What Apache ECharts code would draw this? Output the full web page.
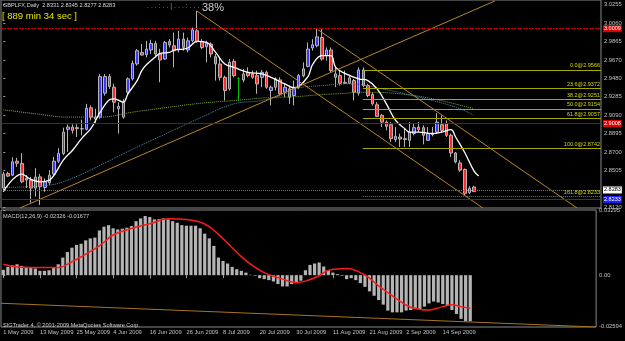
<!DOCTYPE html>
<html>
<head>
<meta charset="utf-8">
<title>GBPLFX Daily</title>
<script src="https://cdn.jsdelivr.net/npm/echarts@6/dist/echarts.min.js"></script>
<style>
html, body { margin: 0; padding: 0; background: #000; }
#wrap { width: 625px; height: 341px; }
</style>
</head>
<body>
<div id="wrap"></div>
<script>
// daily bars, 1 May 2009 .. 22 Sep 2009 (last one still open)
var opens = [2.8320,2.8474,2.8456,2.8603,2.8579,2.8425,2.8404,2.8320,2.8438,2.8327,
  2.8376,2.8467,2.8603,2.8684,2.8939,2.8963,2.8957,2.8944,2.8939,2.9166,
  2.9047,2.9068,2.9320,2.9495,2.9383,2.9156,2.9068,2.9330,2.9471,2.9628,
  2.9750,2.9726,2.9775,2.9844,2.9733,2.9680,2.9865,2.9820,2.9775,2.9890,
  2.9775,2.9872,2.9977,2.9865,2.9809,2.9838,2.9705,2.9628,2.9487,2.9366,
  2.9655,2.9474,2.9460,2.9540,2.9523,2.9505,2.9487,2.9540,2.9348,2.9383,
  2.9460,2.9330,2.9366,2.9295,2.9383,2.9505,2.9603,2.9796,2.9820,2.9907,
  2.9715,2.9775,2.9487,2.9505,2.9435,2.9424,2.9453,2.9320,2.9565,2.9400,
  2.9306,2.9198,2.9086,2.9015,2.8988,2.8831,2.8858,2.8841,2.8823,2.8894,
  2.8963,2.8957,2.8823,2.8883,2.8910,2.8988,2.8999,2.8876,2.8690,2.8585,
  2.8516,2.8271,2.8331];
var closes = [2.8467,2.8446,2.8596,2.8582,2.8386,2.8404,2.8320,2.8435,2.8334,2.8386,
  2.8456,2.8603,2.8684,2.8910,2.8963,2.8928,2.8946,2.8946,2.9162,2.9068,
  2.9068,2.9495,2.9495,2.9390,2.9225,2.9180,2.9225,2.9471,2.9634,2.9768,
  2.9722,2.9785,2.9844,2.9733,2.9670,2.9855,2.9830,2.9768,2.9890,2.9802,
  2.9872,2.9988,2.9867,2.9802,2.9844,2.9733,2.9628,2.9487,2.9348,2.9645,
  2.9505,2.9474,2.9523,2.9505,2.9487,2.9418,2.9540,2.9383,2.9383,2.9471,
  2.9313,2.9383,2.9278,2.9383,2.9505,2.9576,2.9785,2.9830,2.9914,2.9680,
  2.9775,2.9558,2.9523,2.9424,2.9424,2.9481,2.9330,2.9565,2.9400,2.9295,
  2.9208,2.9075,2.9015,2.8970,2.8841,2.8865,2.8837,2.8831,2.8910,2.8957,
  2.8936,2.8876,2.8894,2.8900,2.9015,2.8928,2.8876,2.8690,2.8596,2.8509,
  2.8264,2.8317,2.8283];
var lows = [2.8299,2.8435,2.8446,2.8543,2.8372,2.8320,2.8166,2.8229,2.8142,2.8281,
  2.8351,2.8446,2.8582,2.8666,2.8701,2.8894,2.8858,2.8876,2.8928,2.9033,
  2.8999,2.9051,2.9295,2.9366,2.9120,2.8894,2.9051,2.9306,2.9453,2.9610,
  2.9715,2.9697,2.9733,2.9697,2.9435,2.9670,2.9802,2.9592,2.9750,2.9768,
  2.9750,2.9855,2.9851,2.9785,2.9645,2.9697,2.9453,2.9453,2.9243,2.9348,
  2.9487,2.9243,2.9435,2.9487,2.9471,2.9313,2.9383,2.9366,2.9191,2.9348,
  2.9295,2.9278,2.9208,2.9191,2.9366,2.9487,2.9592,2.9768,2.9802,2.9663,
  2.9663,2.9540,2.9383,2.9400,2.9418,2.9418,2.9243,2.9295,2.9383,2.9278,
  2.9191,2.9068,2.8963,2.8928,2.8806,2.8806,2.8753,2.8753,2.8753,2.8876,
  2.8910,2.8781,2.8816,2.8865,2.8894,2.8910,2.8858,2.8648,2.8579,2.8491,
  2.8247,2.8257,2.8277];
var highs = [2.8491,2.8491,2.8645,2.8638,2.8687,2.8456,2.8438,2.8530,2.8467,2.8422,
  2.8509,2.8648,2.8740,2.8957,2.8991,2.8991,2.8991,2.9041,2.9208,2.9191,
  2.9156,2.9523,2.9523,2.9523,2.9421,2.9225,2.9261,2.9487,2.9663,2.9785,
  2.9838,2.9872,2.9883,2.9872,2.9788,2.9872,2.9890,2.9959,2.9977,2.9959,
  2.9907,3.0012,3.0187,2.9890,2.9872,2.9855,2.9733,2.9697,2.9505,2.9680,
  2.9680,2.9487,2.9576,2.9592,2.9558,2.9558,2.9565,2.9558,2.9400,2.9487,
  2.9487,2.9418,2.9400,2.9453,2.9523,2.9645,2.9855,2.9890,2.9995,2.9995,
  2.9802,2.9802,2.9592,2.9558,2.9558,2.9505,2.9471,2.9592,2.9592,2.9418,
  2.9330,2.9225,2.9103,2.9033,2.9015,2.8963,2.8894,2.8946,2.9015,2.8999,
  2.9015,2.8981,2.8963,2.8963,2.9110,2.9086,2.9033,2.8894,2.8701,2.8614,
  2.8527,2.8341,2.8345];
var dojiBars = [51];

// moving averages: [bar, price]
var fastMa = [[0,2.8281],[4,2.8467],[6,2.8411],[8,2.8386],[10,2.8404],[11,2.8456],[13,2.8614],
  [15,2.8719],[17,2.8844],[19,2.8949],[21,2.9120],[23,2.9250],[24,2.9261],[26,2.9225],
  [27,2.9313],[29,2.9453],[30,2.9558],[31,2.9620],[33,2.9705],[34,2.9739],[36,2.9750],
  [37,2.9775],[39,2.9785],[40,2.9796],[42,2.9865],[44,2.9855],[46,2.9750],[48,2.9628],
  [50,2.9592],[53,2.9540],[56,2.9523],[58,2.9487],[61,2.9418],[63,2.9376],[66,2.9495],
  [67,2.9620],[69,2.9715],[71,2.9715],[72,2.9592],[74,2.9529],[77,2.9471],[79,2.9453],
  [81,2.9366],[83,2.9208],[85,2.9033],[87,2.8946],[88,2.8910],[90,2.8910],[93,2.8894],
  [95,2.8910],[97,2.8936],[98,2.8858],[100,2.8692],[102,2.8498],[103,2.8446]];
var midMa = [[0,2.8327],[10,2.8351],[15,2.8425],[21,2.8561],[28,2.8729],[36,2.8910],
  [43,2.9068],[50,2.9208],[56,2.9243],[62,2.9327],[64,2.9376],[69,2.9400],[75,2.9418],
  [82,2.9366],[90,2.9278],[98,2.9173],[102,2.9086]];
var slowMa = [[0,2.9145],[7,2.9103],[14,2.9068],[21,2.9068],[28,2.9120],[36,2.9173],
  [43,2.9215],[50,2.9243],[57,2.9271],[64,2.9285],[69,2.9306],[72,2.9313],[79,2.9330],
  [86,2.9313],[93,2.9261],[102,2.9156]];

var macdHist = [0.0027,0.0042,0.0050,0.0055,0.0047,0.0042,0.0039,0.0034,0.0022,0.0022,
  0.0025,0.0039,0.0055,0.0089,0.0117,0.0139,0.0153,0.0159,0.0176,0.0186,
  0.0190,0.0226,0.0245,0.0253,0.0237,0.0231,0.0235,0.0240,0.0248,0.0273,
  0.0287,0.0299,0.0294,0.0282,0.0283,0.0287,0.0282,0.0273,0.0265,0.0253,
  0.0250,0.0250,0.0250,0.0237,0.0210,0.0186,0.0148,0.0089,0.0072,0.0059,
  0.0042,0.0030,0.0022,0.0013,0.0002,-0.0003,-0.0015,-0.0020,-0.0025,-0.0032,
  -0.0045,-0.0057,-0.0057,-0.0045,-0.0035,-0.0028,0.0025,0.0052,0.0059,0.0064,
  0.0044,0.0025,0.0013,0.0005,-0.0003,-0.0020,-0.0015,-0.0025,-0.0040,-0.0059,
  -0.0082,-0.0104,-0.0126,-0.0149,-0.0179,-0.0188,-0.0188,-0.0188,-0.0179,-0.0176,
  -0.0171,-0.0171,-0.0159,-0.0143,-0.0133,-0.0138,-0.0146,-0.0154,-0.0176,-0.0196,
  -0.0221,-0.0233,-0.02326];
var macdSignal = [[0,0.0055],[4,0.0040],[8,0.0039],[12,0.0039],[15,0.0068],[18,0.0106],
  [21,0.0148],[24,0.0203],[28,0.0236],[32,0.0260],[36,0.0285],[40,0.0281],[44,0.0259],
  [47,0.0206],[50,0.0139],[53,0.0074],[57,0.0013],[61,-0.0020],[64,-0.0037],[66,-0.0030],
  [69,-0.0003],[71,0.0025],[75,0.0034],[79,0.0001],[82,-0.0054],[86,-0.0121],[89,-0.0162],
  [93,-0.0176],[96,-0.0159],[98,-0.0149],[100,-0.0159],[102,-0.01677]];

var dateTicks = ['1 May 2009','13 May 2009','25 May 2009','4 Jun 2009','16 Jun 2009',
  '26 Jun 2009','8 Jul 2009','20 Jul 2009','30 Jul 2009','11 Aug 2009','21 Aug 2009',
  '2 Sep 2009','14 Sep 2009'];
var priceTicks = [3.0255,3.0060,2.9865,2.9670,2.9480,2.9285,2.9090,2.8895,2.8700,2.8505,2.8310,2.8120];
var macdTicks = [0.03295, 0, -0.02594];
var macdTickText = ['0.03295', '0.00', '-0.02594'];

var fibLevels = ['0.0','23.6','38.2','50.0','61.8','100.0','161.8'];
var fibPrices = [2.9566,2.9372,2.9251,2.9154,2.9057,2.8742,2.8233];
var fibStart = 77.9;

// drawn objects: [bar, price] end points
var trendLines = [
  [[3.6, 2.8110], [106.5, 3.0292]],
  [[41.9, 3.0187], [103.9, 2.8110]],
  [[68.2, 2.9988], [124.3, 2.8110]]
];
var macdTrend = [[-0.5, -0.0142], [129.5, -0.0262]];

var redLevels = [3.0009, 2.9008];
var bidPrice = 2.8283;
var bluePrice = 2.8233;

var slotCount = 130;
var slots = [];
for (var i = 0; i < slotCount; i++) slots.push(String(i));

var candles = opens.map(function (o, i) {
  var item = { value: [o, closes[i], lows[i], highs[i]] };
  if (dojiBars.indexOf(i) >= 0) {
    item.itemStyle = { color: '#00c000', color0: '#00c000', borderColor: '#00c000', borderColor0: '#00c000' };
  }
  return item;
});

var FONT = 'Liberation Sans';
var grey = '#c0c0c0';

function levelLine(v, text, lineColor, lineType, boxColor, textColor) {
  return {
    yAxis: v,
    lineStyle: { color: lineColor, type: lineType, width: 1 },
    label: {
      show: true, position: 'end', distance: 2, formatter: text,
      backgroundColor: boxColor, color: textColor, fontSize: 5.5, fontFamily: FONT,
      padding: [1, 1, 0, 1]
    }
  };
}

var fibData = fibPrices.map(function (p, i) {
  var dotted = fibLevels[i] === '161.8';
  return [
    { coord: [fibStart, p], lineStyle: { color: dotted ? '#7a7a50' : '#a8a800', type: dotted ? 'dotted' : 'solid', width: 1 },
      label: { show: true, position: 'insideEndTop', distance: 1, formatter: fibLevels[i] + '@' + p.toFixed(4),
        color: '#d8d800', fontSize: 5.5, fontFamily: FONT } },
    { coord: [129.5, p] }
  ];
});

var series = [
  {
    type: 'candlestick', xAxisIndex: 0, yAxisIndex: 0, data: candles, barWidth: 3,
    itemStyle: { color: '#3a3aff', color0: '#ff2a2a', borderColor: '#b4b4b4', borderColor0: '#b4b4b4', borderWidth: 1 },
    markLine: {
      silent: true, symbol: ['none', 'none'],
      data: [
        levelLine(redLevels[0], redLevels[0].toFixed(4), '#d00000', [2, 1], '#e00000', '#ffffff'),
        levelLine(redLevels[1], redLevels[1].toFixed(4), '#b00000', 'solid', '#e00000', '#ffffff'),
        levelLine(bidPrice, bidPrice.toFixed(4), '#6a7a7a', [1, 1], '#ffffff', '#000000'),
        levelLine(bluePrice, bluePrice.toFixed(4), '#1e1eff', 'solid', '#1e1eff', '#ffffff')
      ]
    }
  },
  {
    type: 'line', xAxisIndex: 2, yAxisIndex: 0, data: [], silent: true,
    markLine: { silent: true, symbol: ['none', 'none'], data: fibData }
  },
  { type: 'line', xAxisIndex: 2, yAxisIndex: 0, data: slowMa, smooth: 0.4, symbol: 'none',
    lineStyle: { color: '#7fae2e', width: 1, type: 'dotted' } },
  { type: 'line', xAxisIndex: 2, yAxisIndex: 0, data: midMa, smooth: 0.4, symbol: 'none',
    lineStyle: { color: '#4f8fae', width: 1, type: 'dotted' } },
  { type: 'line', xAxisIndex: 2, yAxisIndex: 0, data: fastMa, smooth: 0.4, symbol: 'none',
    lineStyle: { color: '#ffffff', width: 1.3 } }
];

trendLines.forEach(function (t) {
  series.push({ type: 'line', xAxisIndex: 2, yAxisIndex: 0, data: t, symbol: 'none', clip: true,
    lineStyle: { color: '#b8862b', width: 1 } });
});

series.push(
  { type: 'bar', xAxisIndex: 1, yAxisIndex: 1, data: macdHist, barWidth: 3.2,
    itemStyle: { color: '#b4b4b4' } },
  { type: 'line', xAxisIndex: 3, yAxisIndex: 1, data: macdSignal, smooth: 0.4, symbol: 'none',
    lineStyle: { color: '#ff1a1a', width: 1.5 } },
  { type: 'line', xAxisIndex: 3, yAxisIndex: 1, data: macdTrend, symbol: 'none', clip: true,
    lineStyle: { color: '#a8741c', width: 1 } }
);

function isDateTick(index) {
  return index % 8 === 0 && index / 8 < dateTicks.length;
}

var option = {
  backgroundColor: '#000000',
  animation: false,
  grid: [
    { left: 1, top: -1, width: 600, height: 209, show: true, borderColor: '#8a8a8a', borderWidth: 1, backgroundColor: 'transparent' },
    { left: 1, top: 210, width: 600, height: 117, show: true, borderColor: '#8a8a8a', borderWidth: 1, backgroundColor: 'transparent' }
  ],
  xAxis: [
    { type: 'category', gridIndex: 0, data: slots, boundaryGap: true,
      axisLine: { show: false }, axisTick: { show: false }, axisLabel: { show: false } },
    { type: 'category', gridIndex: 1, data: slots, boundaryGap: true,
      axisLine: { show: false },
      axisTick: { show: true, alignWithLabel: true, length: 3, interval: isDateTick, lineStyle: { color: '#a0a0a0' } },
      axisLabel: {
        interval: isDateTick, align: 'left', margin: 2, color: grey, fontSize: 5.8, fontFamily: FONT,
        formatter: function (value) { return dateTicks[parseInt(value, 10) / 8] || ''; }
      } },
    { type: 'value', gridIndex: 0, min: -0.5, max: slotCount - 0.5, show: false },
    { type: 'value', gridIndex: 1, min: -0.5, max: slotCount - 0.5, show: false }
  ],
  yAxis: [
    { type: 'value', gridIndex: 0, position: 'right', min: 2.8110, max: 3.0302,
      splitLine: { show: false }, axisLine: { show: false },
      axisTick: { show: true, length: 2, customValues: priceTicks, lineStyle: { color: '#a0a0a0' } },
      axisLabel: { customValues: priceTicks, margin: 3, color: grey, fontSize: 5.8, fontFamily: FONT,
        formatter: function (v) { return v.toFixed(4); } } },
    { type: 'value', gridIndex: 1, position: 'right', min: -0.0262, max: 0.03295,
      splitLine: { show: false }, axisLine: { show: false },
      axisTick: { show: true, length: 2, customValues: macdTicks, lineStyle: { color: '#a0a0a0' } },
      axisLabel: { customValues: macdTicks, margin: 3, color: grey, fontSize: 5.8, fontFamily: FONT,
        formatter: function (v) { return macdTickText[macdTicks.indexOf(v)]; } } }
  ],
  graphic: [
    { type: 'text', left: 3, top: 2, silent: true,
      style: { text: 'GBPLFX,Daily  2.8331 2.8345 2.8277 2.8283', fill: '#d8d8d8', font: '5.6px "Liberation Sans"' } },
    { type: 'text', left: 2, top: 11, silent: true,
      style: { text: '[ 889 min 34 sec ]', fill: '#e6e600', font: '9.5px "Liberation Sans"' } },
    { type: 'text', left: 147, top: 3, silent: true,
      style: { text: '. . . : . . | . . . : . . .', fill: '#9a9a9a', font: '7px "Liberation Sans"' } },
    { type: 'text', left: 202, top: 2, silent: true,
      style: { text: '38%', fill: '#d0d0d0', font: '11px "Liberation Sans"' } },
    { type: 'text', left: 3, top: 213, silent: true,
      style: { text: 'MACD(12,26,9) -0.02326 -0.01677', fill: '#d0d0d0', font: '5.6px "Liberation Sans"' } },
    { type: 'text', left: 3, top: 322, silent: true,
      style: { text: 'SIGTrader 4, \u00a9 2001-2009 MetaQuotes Software Corp.', fill: '#d0d0d0', font: '5.6px "Liberation Sans"' } }
  ],
  series: series
};

var myChart = echarts.init(document.getElementById('wrap'));
myChart.setOption(option);
</script>
</body>
</html>
